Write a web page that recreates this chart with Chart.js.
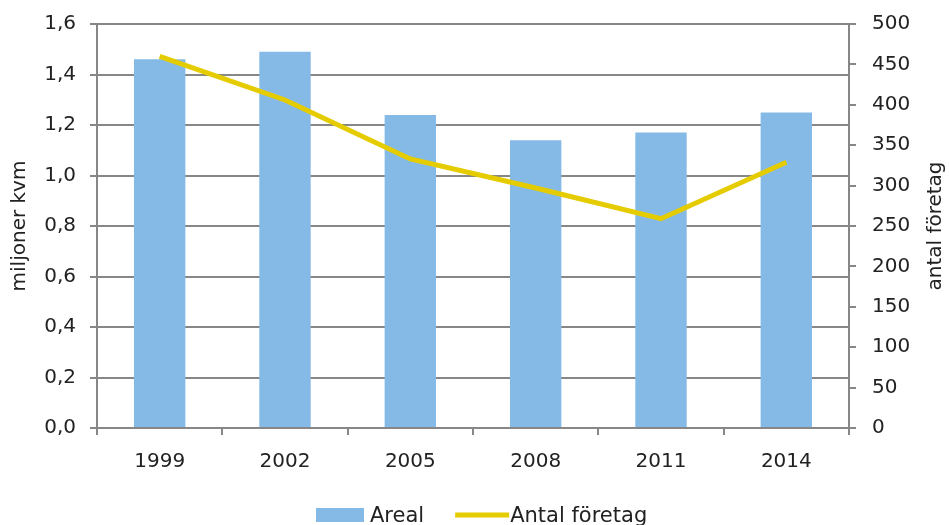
<!DOCTYPE html>
<html>
<head>
<meta charset="utf-8">
<script src="https://cdn.jsdelivr.net/npm/chart.js@4"></script>
<style>
  html, body { margin: 0; padding: 0; background: #fff; }
  #wrap { width: 949px; height: 525px; }
</style>
</head>
<body>
<div id="wrap"><canvas id="myChart" width="949" height="525"></canvas></div>
<script>
// data
const years = ['1999', '2002', '2005', '2008', '2011', '2014'];
const areal = [1.46, 1.49, 1.24, 1.14, 1.17, 1.25];       // miljoner kvm
const antalForetag = [460, 406, 333, 297, 259, 329];      // antal företag

const gridGrey = '#878787';
const textCol = '#222';
const font = { family: 'DejaVu Sans', size: 20 };

// axis titles, both read bottom-to-top like the original
const axisTitles = {
  id: 'axisTitles',
  afterDraw(chart) {
    const c = chart.ctx, a = chart.chartArea;
    const mid = (a.top + a.bottom) / 2;
    c.save();
    c.fillStyle = textCol;
    c.font = '20px "DejaVu Sans"';
    c.textAlign = 'center';
    c.textBaseline = 'middle';
    [['miljoner kvm', 20], ['antal företag', 936]].forEach(([t, x]) => {
      c.save();
      c.translate(x, mid);
      c.rotate(-Math.PI / 2);
      c.fillText(t, 0, 0);
      c.restore();
    });
    c.restore();
  }
};

// bottom legend: swatch + label per dataset, laid out left to right
const bottomLegend = {
  id: 'bottomLegend',
  afterDraw(chart) {
    const c = chart.ctx;
    const y = 515;
    let x = 316;
    c.save();
    c.font = '21px "DejaVu Sans"';
    c.textBaseline = 'alphabetic';
    chart.data.datasets.forEach(ds => {
      if (ds.type === 'line') {
        c.strokeStyle = ds.borderColor;
        c.lineWidth = ds.borderWidth;
        c.beginPath();
        c.moveTo(x, y);
        c.lineTo(x + 54, y);
        c.stroke();
        x += 55;
      } else {
        c.fillStyle = ds.backgroundColor;
        c.fillRect(x, y - 7, 48, 14);
        x += 54;
      }
      c.fillStyle = textCol;
      c.fillText(ds.label, x, 522);
      x += c.measureText(ds.label).width + 31;
    });
    c.restore();
  }
};

// keep the plot box where the original has it (no extra room for tick padding)
const trimPad = s => { s.paddingTop = 0; s.paddingBottom = 0; };

const ctx = document.getElementById('myChart');

new Chart(ctx, {
  type: 'bar',
  data: {
    labels: years,
    datasets: [{
      label: 'Areal',
      data: areal,
      backgroundColor: '#85BAE6',
      borderWidth: 0,
      categoryPercentage: 1,
      barPercentage: 0.41,
      yAxisID: 'y',
      order: 1
    }, {
      type: 'line',
      label: 'Antal företag',
      data: antalForetag,
      borderColor: '#E5CC00',
      backgroundColor: '#E5CC00',
      borderWidth: 5,
      pointRadius: 0,
      tension: 0,
      yAxisID: 'y2',
      order: 0
    }]
  },
  plugins: [axisTitles, bottomLegend],
  options: {
    responsive: false,
    animation: false,
    layout: { padding: { top: 24, left: 0, right: 0, bottom: 45 } },
    plugins: {
      tooltip: { enabled: false },
      legend: { display: false }
    },
    scales: {
      x: {
        offset: true,
        grid: { offset: true, drawOnChartArea: false, drawTicks: true, tickLength: 7, color: gridGrey, lineWidth: 2 },
        border: { color: gridGrey, width: 2 },
        ticks: { color: textCol, font: font, padding: 15 },
        afterFit: s => { s.height = 52; }
      },
      y: {
        position: 'left',
        min: 0, max: 1.6,
        ticks: {
          stepSize: 0.2, color: textCol, font: font, padding: 14,
          callback: v => v.toFixed(1).replace('.', ',')
        },
        grid: { color: gridGrey, lineWidth: 2, tickLength: 7 },
        border: { color: gridGrey, width: 2 },
        afterFit: s => { s.width = 97; trimPad(s); }
      },
      y2: {
        position: 'right',
        min: 0, max: 500,
        ticks: { stepSize: 50, color: textCol, font: font, padding: 16 },
        grid: { drawOnChartArea: false, color: gridGrey, lineWidth: 2, tickLength: 7 },
        border: { color: gridGrey, width: 2 },
        afterFit: s => { s.width = 100; trimPad(s); }
      }
    }
  }
});
</script>
</body>
</html>
